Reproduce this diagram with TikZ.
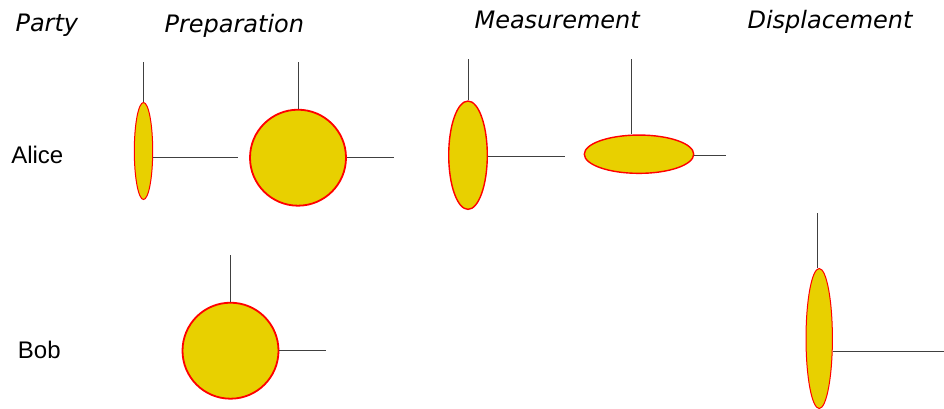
\documentclass[tikz,border=0pt]{standalone}
\usepackage{fontspec}
\setmainfont{Liberation Sans}
\newfontfamily\headfont{DejaVu Sans}
\usepackage{xcolor}
\usepackage{tikz}
\usetikzlibrary{positioning, shapes.geometric}

\definecolor{stateyellow}{RGB}{232,208,0}

\begin{document}
\begin{tikzpicture}[
  x=1pt, y=-1pt,
  wigner/.style={ellipse, draw=red, fill=stateyellow, inner sep=0pt, line width=1pt},
  thick border/.style={line width=1.8pt},
  axisline/.style={draw=black!75, line width=1pt},
  colhead/.style={anchor=base west, font=\headfont\itshape\fontsize{24}{28}\selectfont},
  partyname/.style={anchor=base, font=\fontsize{24}{28}\selectfont}
]
\useasboundingbox (0,0) rectangle (944,408);

% Column headings
\node[colhead] (hparty) at (12,31) {Party};
\node[colhead] (hprep) at (161,32) {Preparation};
\node[colhead] (hmeas) at (471,28) {Measurement};
\node[colhead] (hdisp) at (744,28) {Displacement};

% Parties
\node[partyname] (alice) at (37.3,163.5) {Alice};
\node[partyname] (bob) at (39.3,358.5) {Bob};

% Alice: preparation
\node[wigner, minimum width=18.4, minimum height=97] (pa1) at (143.5,151) {};
\draw[axisline] (pa1.north) -- ++(0,-40);
\draw[axisline] ([yshift=-6pt]pa1.east) -- ++(85,0);

\node[wigner, thick border, minimum width=96, minimum height=96] (pa2) at (298,157.7) {};
\draw[axisline] (pa2.north) -- ++(0,-47);
\draw[axisline] (pa2.east) -- ++(47,0);

% Alice: measurement
\node[wigner, line width=1.4pt, minimum width=38.6, minimum height=108.3] (ma1) at (468,155.2) {};
\draw[axisline] (ma1.north) -- ++(0,-41);
\draw[axisline] ([yshift=-0.8pt]ma1.east) -- ++(77,0);

\node[wigner, line width=1.4pt, minimum width=109.4, minimum height=38.3] (ma2) at (639,154.2) {};
\draw[axisline] ([xshift=-8pt]ma2.north) -- ++(0,-75);
\draw[axisline] ([yshift=-1pt]ma2.east) -- ++(32,0);

% Bob: preparation
\node[wigner, thick border, minimum width=96, minimum height=96] (pb) at (230.5,350.7) {};
\draw[axisline] (pb.north) -- ++(0,-47);
\draw[axisline] (pb.east) -- ++(47,0);

% Bob: displacement
\node[wigner, minimum width=26.4, minimum height=140] (db) at (819.2,338.5) {};
\draw[axisline] ([xshift=-2pt]db.north) -- ++(0,-55.5);
\draw[axisline] ([yshift=-13.2pt]db.east) -- ++(112,0);
\end{tikzpicture}
\end{document}
